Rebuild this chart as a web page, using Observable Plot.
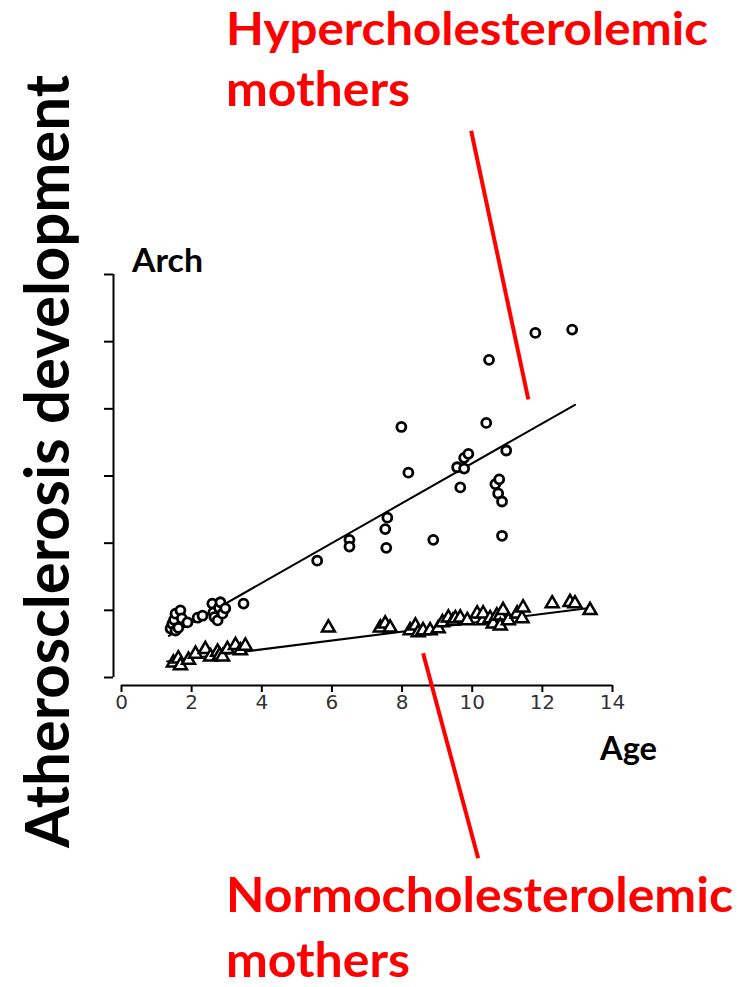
<!DOCTYPE html>
<html>
<head>
<meta charset="utf-8">
<script src="https://cdn.jsdelivr.net/npm/d3@7"></script>
<script src="https://cdn.jsdelivr.net/npm/@observablehq/plot@0.6"></script>
<style>
  html, body { margin: 0; padding: 0; background: #fff; }
  #wrap { position: relative; width: 740px; height: 987px; overflow: hidden; }
  #wrap > svg { position: absolute; left: 0; top: 0; }
  #labels { pointer-events: none; }
</style>
</head>
<body>
<div id="wrap"></div>
<script>
// ---- data (age in years, arch lesion score) ----
const hyperAge = [1.40,1.45,1.50,1.54,1.54,1.62,1.68,1.72,1.88,2.17,2.31,2.59,2.62,2.65,2.74,2.78,2.82,2.88,2.96,3.48,
                  5.58,6.50,6.50,7.52,7.55,7.58,7.98,8.18,8.89,9.57,9.66,9.77,9.77,9.89,10.40,10.48,
                  10.66,10.74,10.77,10.85,10.85,10.97,11.80,12.85];
const hyperArch = [0.73,0.80,0.86,0.95,0.70,0.74,1.00,0.88,0.82,0.89,0.92,1.10,0.97,0.90,0.85,1.04,1.12,0.95,1.03,1.10,
                   1.74,2.05,1.95,2.21,1.93,2.38,3.73,3.05,2.05,3.13,2.83,3.27,3.11,3.33,3.79,4.73,
                   2.88,2.74,2.95,2.62,2.11,3.38,5.13,5.18];

const normoAge = [1.48,1.62,1.68,1.91,2.11,2.39,2.54,2.74,2.80,2.88,3.02,3.25,3.39,3.53,
                  5.90,7.38,7.52,7.66,8.23,8.38,8.46,8.60,8.80,9.03,9.15,9.32,9.45,9.52,9.66,9.86,
                  10.14,10.31,10.31,10.51,10.60,10.70,10.80,10.80,10.88,11.03,11.28,11.42,11.45,
                  12.28,12.79,12.93,13.36];
const normoArch = [0.22,0.28,0.18,0.26,0.35,0.42,0.31,0.38,0.33,0.31,0.42,0.48,0.40,0.47,
                   0.74,0.74,0.80,0.74,0.70,0.77,0.67,0.70,0.70,0.73,0.82,0.89,0.84,0.88,0.89,0.85,
                   0.95,0.85,0.95,0.88,0.80,0.92,0.92,0.77,1.00,0.85,0.95,0.88,1.04,
                   1.10,1.12,1.10,1.00];

// fitted regression lines (endpoints)
const hyperFitAge = [1.35, 12.93];
const hyperFitArch = [0.62, 4.06];
const normoFitAge = [1.30, 13.40];
const normoFitArch = [0.24, 1.04];

// annotation pointer lines (data units)
const pointerX1 = [9.97, 8.60];
const pointerY1 = [8.14, 0.36];
const pointerX2 = [11.60, 10.17];
const pointerY2 = [4.14, -2.69];

const xTicks = [0, 2, 4, 6, 8, 10, 12, 14];
const yTicks = [0, 1, 2, 3, 4, 5, 6];

const hyper = hyperAge.map((a, i) => ({age: a, arch: hyperArch[i]}));
const normo = normoAge.map((a, i) => ({age: a, arch: normoArch[i]}));
const hyperFit = hyperFitAge.map((a, i) => ({age: a, arch: hyperFitArch[i]}));
const normoFit = normoFitAge.map((a, i) => ({age: a, arch: normoFitArch[i]}));
const pointers = pointerX1.map((x, i) => ({x1: x, y1: pointerY1[i], x2: pointerX2[i], y2: pointerY2[i]}));

const chart = Plot.plot({
  width: 740,
  height: 987,
  marginLeft: 121,
  marginRight: 128,
  marginTop: 274,
  marginBottom: 310,
  x: {domain: [0, 14]},
  y: {domain: [0, 6]},
  style: {background: "transparent", overflow: "visible", fontFamily: "DejaVu Sans", fontSize: "20px"},
  marks: [
    // x axis (offset below the frame)
    Plot.ruleY([0], {x1: 0, x2: 14, dy: 8, stroke: "#000", strokeWidth: 2}),
    Plot.axisX(xTicks, {tickSize: 7, tickPadding: 2, dy: 8, stroke: "#000", strokeWidth: 2,
      fontSize: 20, fill: "#333", label: null}),
    // y axis (offset left of the frame), labels clipped off in original
    Plot.ruleX([0], {y1: 0, y2: 6, dx: -8, stroke: "#000", strokeWidth: 2}),
    Plot.axisY(yTicks, {tickSize: 9, dx: -8, stroke: "#000", strokeWidth: 2,
      tickFormat: () => "", label: null}),
    // regression lines
    Plot.line(hyperFit, {x: "age", y: "arch", stroke: "#000", strokeWidth: 2}),
    Plot.line(normoFit, {x: "age", y: "arch", stroke: "#000", strokeWidth: 2}),
    // data points
    Plot.dot(normo, {x: "age", y: "arch", symbol: "triangle", r: 4.8, stroke: "#000", strokeWidth: 2.5, fill: "#fff"}),
    Plot.dot(hyper, {x: "age", y: "arch", symbol: "circle", r: 4.5, stroke: "#000", strokeWidth: 2.8, fill: "#fff"}),
    // red pointer lines
    Plot.link(pointers, {x1: "x1", y1: "y1", x2: "x2", y2: "y2", stroke: "#ff0000", strokeWidth: 4, clip: false})
  ]
});
document.getElementById("wrap").appendChild(chart);

// text labels overlay
const ns = "http://www.w3.org/2000/svg";
const svg = document.createElementNS(ns, "svg");
svg.setAttribute("id", "labels");
svg.setAttribute("width", 740);
svg.setAttribute("height", 987);
const labels = [
  {t: "Hypercholesterolemic", x: 226, y: 45, size: 46, len: 482, fill: "#ff0000"},
  {t: "mothers", x: 226, y: 106, size: 47, len: 184, fill: "#ff0000"},
  {t: "Normocholesterolemic", x: 226, y: 912, size: 47, len: 507, fill: "#ff0000"},
  {t: "mothers", x: 226, y: 977, size: 47, len: 184, fill: "#ff0000"},
  {t: "Arch", x: 132, y: 272, size: 33, len: 71, fill: "#000"},
  {t: "Age", x: 600, y: 760, size: 32, len: 57, fill: "#000"},
  {t: "Atherosclerosis development", x: 0, y: 0, size: 61, len: 773, fill: "#000",
   transform: "translate(69,848) rotate(-90)"}
];
for (const l of labels) {
  const el = document.createElementNS(ns, "text");
  el.setAttribute("x", l.x);
  el.setAttribute("y", l.y);
  el.setAttribute("font-family", "Lato, 'Open Sans', sans-serif");
  el.setAttribute("font-weight", "bold");
  el.setAttribute("font-size", l.size);
  el.setAttribute("fill", l.fill);
  el.setAttribute("textLength", l.len);
  el.setAttribute("lengthAdjust", "spacingAndGlyphs");
  if (l.transform) el.setAttribute("transform", l.transform);
  el.textContent = l.t;
  svg.appendChild(el);
}
document.getElementById("wrap").appendChild(svg);
</script>
</body>
</html>
